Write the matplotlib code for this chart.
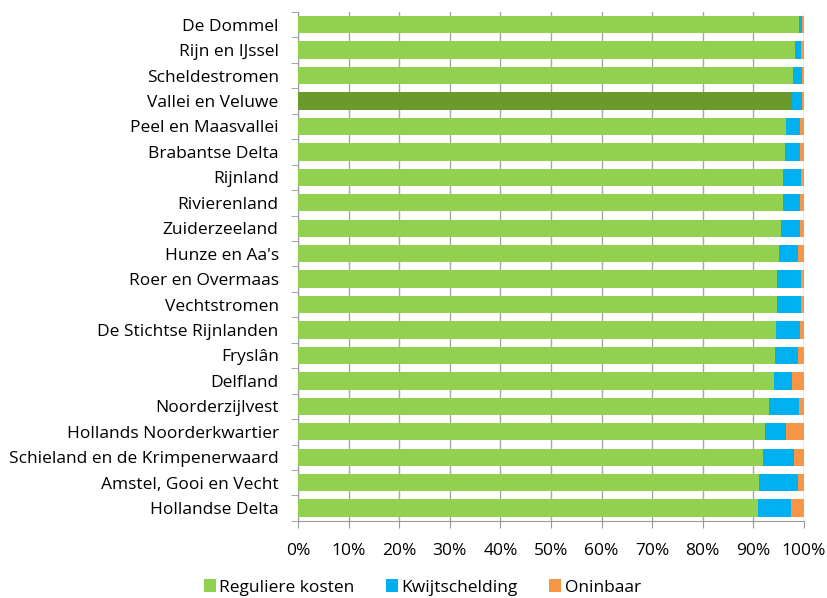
import matplotlib.pyplot as plt
import numpy as np

names = ["De Dommel", "Rijn en IJssel", "Scheldestromen", "Vallei en Veluwe",
         "Peel en Maasvallei", "Brabantse Delta", "Rijnland", "Rivierenland",
         "Zuiderzeeland", "Hunze en Aa's", "Roer en Overmaas", "Vechtstromen",
         "De Stichtse Rijnlanden", "Fryslân", "Delfland", "Noorderzijlvest",
         "Hollands Noorderkwartier", "Schieland en de Krimpenerwaard",
         "Amstel, Gooi en Vecht", "Hollandse Delta"]
regulier = [99.1, 98.3, 97.9, 97.7, 96.4, 96.3, 95.9, 95.8, 95.5, 95.0,
            94.7, 94.7, 94.4, 94.3, 94.1, 93.1, 92.3, 91.9, 91.2, 90.9]
kwijt = [0.5, 1.2, 1.7, 2.0, 2.9, 2.9, 3.6, 3.5, 3.8, 3.8,
         4.8, 4.8, 4.9, 4.6, 3.6, 6.0, 4.1, 6.2, 7.6, 6.6]
oninbaar = [100 - r - k for r, k in zip(regulier, kwijt)]

plt.rcParams['font.family'] = ['Open Sans', 'DejaVu Sans']
fs = 12.5

fig = plt.figure(figsize=(8.28, 5.98), dpi=100)
ax = fig.add_axes([0.36, 0.129, 0.611, 0.851])

y = np.arange(len(names))
green = ['#6A9A2C' if n == "Vallei en Veluwe" else '#92D050' for n in names]
ax.barh(y, regulier, height=0.68, color=green, label='Reguliere kosten', zorder=3)
ax.barh(y, kwijt, left=regulier, height=0.68, color='#00B0F0', label='Kwijtschelding', zorder=3)
left2 = [r + k for r, k in zip(regulier, kwijt)]
ax.barh(y, oninbaar, left=left2, height=0.68, color='#F79646', label='Oninbaar', zorder=3)

ax.set_xlim(0, 100)
ax.set_ylim(len(names) - 0.5, -0.5)
ax.set_yticks(y)
ax.set_yticklabels(names, fontsize=fs)
ax.set_yticks(np.arange(-0.5, len(names), 1), minor=True)
ax.tick_params(axis='y', which='major', length=0, pad=14)
ax.tick_params(axis='y', which='minor', length=5, color='#999999')
ax.set_xticks(np.arange(0, 101, 10))
ax.set_xticklabels([f"{v}%" for v in range(0, 101, 10)], fontsize=fs)
ax.tick_params(axis='x', length=5, color='#999999', pad=11)
ax.grid(axis='x', color='#A6A6A6', linewidth=1, zorder=0)
for s in ['top', 'right']:
    ax.spines[s].set_visible(False)
for s in ['left', 'bottom']:
    ax.spines[s].set_color('#999999')

fig.legend(loc='lower center', bbox_to_anchor=(0.51, -0.022), ncol=3, frameon=False,
           fontsize=fs, handlelength=0.7, handleheight=0.7, handletextpad=0.2,
           columnspacing=1.8)

plt.savefig('out.png', dpi=100)
plt.close()
